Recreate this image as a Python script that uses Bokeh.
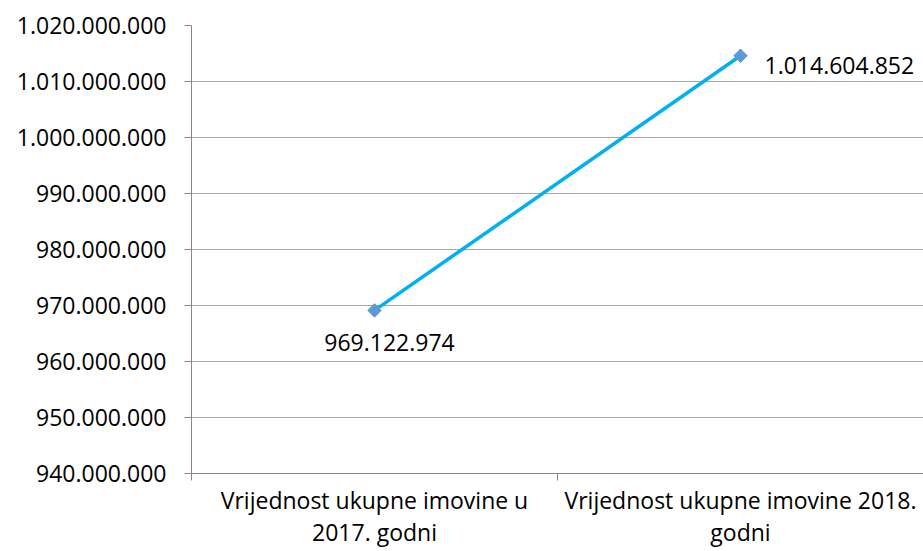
import numpy as np
from bokeh.plotting import figure
from bokeh.models import Range1d, FixedTicker, ColumnDataSource
from bokeh.core.properties import value
from bokeh.embed import file_html
from bokeh.resources import INLINE

categories = ["Vrijednost ukupne imovine u\n2017. godni",
              "Vrijednost ukupne imovine 2018.\ngodni"]
values = [969122974, 1014604852]
y_ticks = [940000000, 950000000, 960000000, 970000000, 980000000,
           990000000, 1000000000, 1010000000, 1020000000]
y_tick_labels = ["940.000.000", "950.000.000", "960.000.000", "970.000.000",
                 "980.000.000", "990.000.000", "1.000.000.000", "1.010.000.000",
                 "1.020.000.000"]

FONT = "Open Sans"
FS = "23px"

def fmt(v):
    return f"{v:,}".replace(",", ".")

xs = [i + 0.5 for i in range(len(categories))]
src = ColumnDataSource(dict(x=xs, y=values, lab=[fmt(v) for v in values]))

p = figure(width=923, height=551, output_backend="svg", toolbar_location=None,
           x_range=Range1d(0, len(categories)), y_range=Range1d(y_ticks[0], y_ticks[-1]),
           min_border_left=191, min_border_right=0, min_border_top=25, min_border_bottom=78)
p.outline_line_color = None
p.background_fill_color = "white"
p.border_fill_color = "white"

# y axis
p.yaxis.ticker = FixedTicker(ticks=y_ticks)
p.yaxis.major_label_overrides = {t: l for t, l in zip(y_ticks, y_tick_labels)}
p.yaxis.axis_line_color = "#868686"
p.yaxis.major_tick_line_color = "#868686"
p.yaxis.major_tick_in = 0
p.yaxis.major_tick_out = 7
p.yaxis.minor_tick_line_color = None
p.yaxis.major_label_standoff = 18
p.yaxis.major_label_text_font = FONT
p.yaxis.major_label_text_font_size = FS
p.yaxis.major_label_text_color = "black"

# x axis: tick marks at category boundaries, labels at category centres
p.xaxis.ticker = FixedTicker(ticks=xs, minor_ticks=list(range(len(categories) + 1)))
p.xaxis.major_label_overrides = {x: c for x, c in zip(xs, categories)}
p.xaxis.axis_line_color = "#868686"
p.xaxis.major_tick_line_color = None
p.xaxis.minor_tick_line_color = "#868686"
p.xaxis.minor_tick_in = 0
p.xaxis.minor_tick_out = 7
p.xaxis.major_label_standoff = 3
p.xaxis.major_label_text_font = FONT
p.xaxis.major_label_text_font_size = FS
p.xaxis.major_label_text_color = "black"
p.xaxis.major_label_text_line_height = 1.0

p.xgrid.grid_line_color = None
p.ygrid.grid_line_color = "#A6A6A6"
p.ygrid.grid_line_width = 1

p.line("x", "y", source=src, line_color="#00B0F0", line_width=3.5)
p.scatter("x", "y", source=src, marker="square", size=9.5, angle=np.pi / 4,
          fill_color="#5B9BD5", line_color="#5B9BD5")

# data labels
p.text(x=[xs[0]], y=[values[0]], text=[fmt(values[0])], x_offset=15, y_offset=32,
       text_align="center", text_baseline="middle", text_font=value(FONT),
       text_font_size=FS, text_color="black")
p.text(x=[xs[1]], y=[values[1]], text=[fmt(values[1])], x_offset=24, y_offset=10,
       text_align="left", text_baseline="middle", text_font=value(FONT),
       text_font_size=FS, text_color="black")

open("out.html", "w").write(file_html(p, INLINE))
